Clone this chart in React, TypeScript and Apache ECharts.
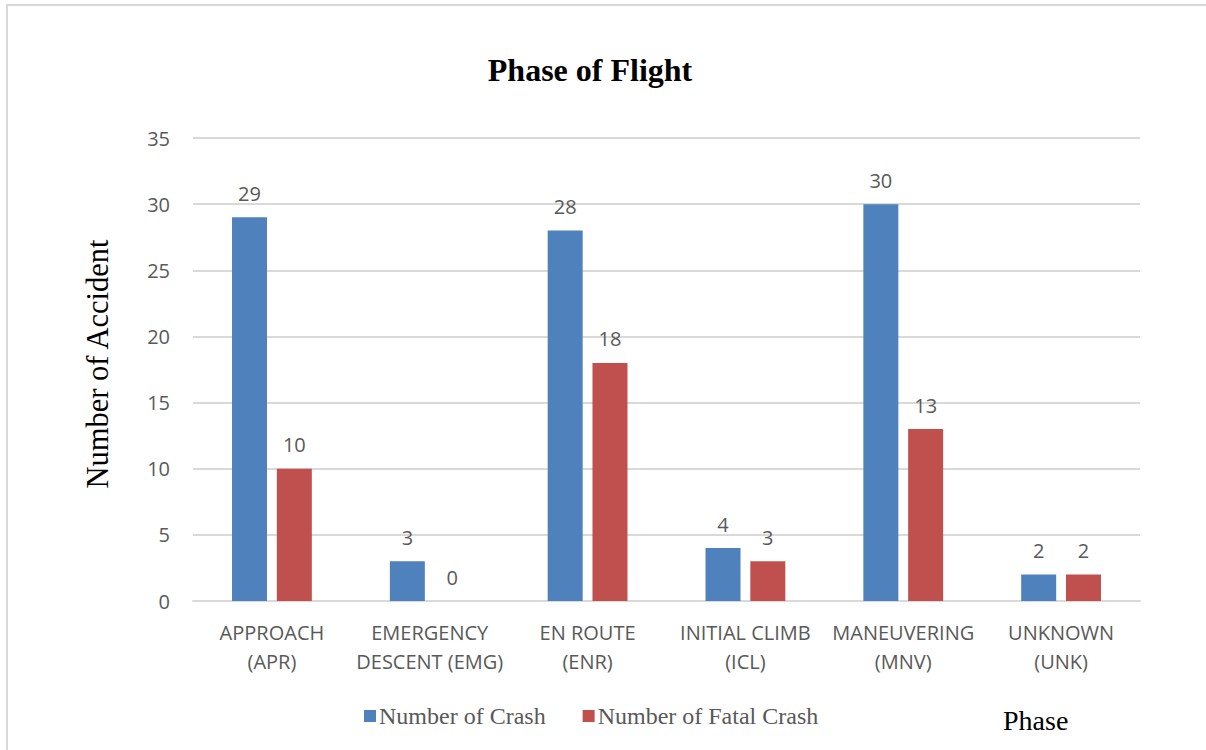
import React, { useEffect, useRef } from "react";
import * as echarts from "echarts";

const categories = [
  "APPROACH\n(APR)",
  "EMERGENCY\nDESCENT (EMG)",
  "EN ROUTE\n(ENR)",
  "INITIAL CLIMB\n(ICL)",
  "MANEUVERING\n(MNV)",
  "UNKNOWN\n(UNK)",
];
const crashCounts = [29, 3, 28, 4, 30, 2];
const fatalCrashCounts = [10, 0, 18, 3, 13, 2];
const seriesNames = ["Number of Crash", "Number of Fatal Crash"];

const SERIF = '"Liberation Serif", "Times New Roman", serif';
const SANS = '"Open Sans", Calibri, sans-serif';
const LABEL_GREY = "#595959";
const GRID_GREY = "#d9d9d9";

export default function App() {
  const ref = useRef<HTMLDivElement>(null);

  useEffect(() => {
    if (!ref.current) return;
    const chart = echarts.init(ref.current, null, { renderer: "svg" });

    const dataLabel = {
      show: true,
      position: "top" as const,
      distance: 14,
      color: LABEL_GREY,
      fontFamily: SANS,
      fontSize: 20,
    };

    chart.setOption({
      animation: false,
      backgroundColor: "#ffffff",
      title: {
        text: "Phase of Flight",
        left: 585,
        top: 49,
        textAlign: "center",
        textStyle: {
          fontFamily: SERIF,
          fontWeight: "bold",
          fontSize: 32,
          color: "#000000",
        },
      },
      graphic: [
        // frame edges along the left and top of the chart area
        {
          type: "line",
          shape: { x1: 7, y1: 5, x2: 7, y2: 760 },
          style: { stroke: GRID_GREY, lineWidth: 2 },
          silent: true,
        },
        {
          type: "line",
          shape: { x1: 6, y1: 5, x2: 1220, y2: 5 },
          style: { stroke: GRID_GREY, lineWidth: 2 },
          silent: true,
        },
        // value axis title
        {
          type: "text",
          x: 98,
          y: 364,
          rotation: Math.PI / 2,
          style: {
            text: "Number of Accident",
            fontFamily: SERIF,
            fontSize: 30.5,
            fill: "#000000",
            textAlign: "center",
            textVerticalAlign: "middle",
          },
        },
        // category axis title
        {
          type: "text",
          x: 1003,
          y: 720,
          style: {
            text: "Phase",
            fontFamily: SERIF,
            fontSize: 28,
            fill: "#000000",
            textAlign: "left",
            textVerticalAlign: "middle",
          },
        },
      ],
      legend: {
        left: 359,
        top: 699,
        itemWidth: 12,
        itemHeight: 12,
        itemGap: 37,
        icon: "rect",
        textStyle: {
          fontFamily: SERIF,
          fontSize: 24,
          color: LABEL_GREY,
          padding: [0, 0, 0, -2],
        },
        data: seriesNames,
      },
      grid: {
        left: 193,
        right: 66,
        top: 138,
        bottom: 149,
      },
      xAxis: {
        type: "category",
        data: categories,
        axisLine: { show: true, lineStyle: { color: GRID_GREY, width: 2 } },
        axisTick: { show: false },
        axisLabel: {
          interval: 0,
          color: LABEL_GREY,
          fontFamily: SANS,
          fontSize: 20,
          lineHeight: 29,
          margin: 17,
          align: "center",
        },
      },
      yAxis: {
        type: "value",
        min: 0,
        max: 35,
        interval: 5,
        axisLine: { show: false },
        axisTick: { show: false },
        axisLabel: {
          color: LABEL_GREY,
          fontFamily: SANS,
          fontSize: 20,
          margin: 23,
        },
        splitLine: { lineStyle: { color: GRID_GREY, width: 2 } },
      },
      series: [
        {
          name: seriesNames[0],
          type: "bar",
          data: crashCounts,
          barWidth: 35,
          barGap: "28%",
          itemStyle: { color: "#4f81bd" },
          label: dataLabel,
        },
        {
          name: seriesNames[1],
          type: "bar",
          data: fatalCrashCounts,
          barWidth: 35,
          barGap: "28%",
          itemStyle: { color: "#c0504d" },
          label: dataLabel,
        },
      ],
    });

    return () => chart.dispose();
  }, []);

  return (
    <div
      ref={ref}
      style={{ position: "absolute", left: 0, top: 0, width: 1206, height: 750 }}
    />
  );
}
